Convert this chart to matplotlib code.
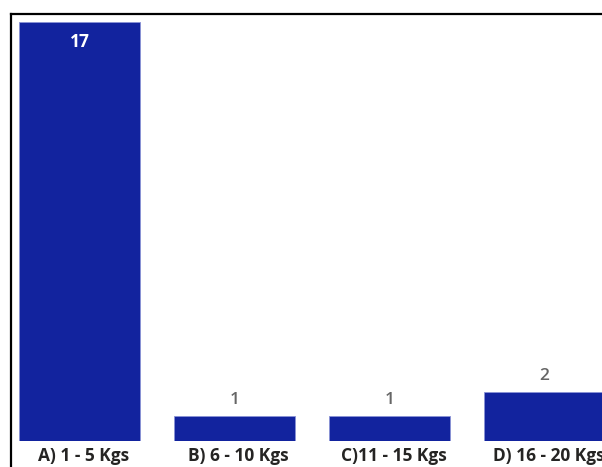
import matplotlib
matplotlib.use("Agg")
import matplotlib.pyplot as plt
from matplotlib.lines import Line2D

categories = ["A) 1 - 5 Kgs", "B) 6 - 10 Kgs", "C)11 - 15 Kgs", "D) 16 - 20 Kgs"]
counts = [17, 1, 1, 2]

W, H = 602, 467
fig = plt.figure(figsize=(W / 100, H / 100), dpi=100)
fig.patch.set_facecolor("white")

# axes spanning the figure; baseline at 26 px from the bottom
ax = fig.add_axes([0, 26 / H, 1, (H - 26) / H])
ax.set_facecolor("none")
xs = list(range(len(categories)))
bars = ax.bar(xs, counts, width=0.775, color="#12239E",
              edgecolor="#8a93d6", linewidth=0.6)
ax.set_xlim(-79.5 / 155, (W - 79.5) / 155)
ax.set_ylim(0, 441 / 419 * 17)
ax.axis("off")

font = "Open Sans"
ymax = ax.get_ylim()[1]
for x, v, lab in zip(xs, counts, categories):
    if v / ymax > 0.5:
        ax.annotate(str(v), (x, v), xytext=(0, -14.5), textcoords="offset points",
                    ha="center", va="center", color="white", fontsize=12.5,
                    fontweight="bold", family=font)
    else:
        ax.annotate(str(v), (x, v), xytext=(0, 11.5), textcoords="offset points",
                    ha="center", va="center", color="#666666", fontsize=12.5,
                    fontweight="semibold", family=font)
    ax.annotate(lab, (x, 0), xytext=(2.8, -10.5), textcoords="offset points",
                ha="center", va="center", color="#252423", fontsize=12.5,
                fontweight="bold", family=font, annotation_clip=False)

# outer frame: left and top edges
fig.add_artist(Line2D([11 / W, 11 / W], [0, 1 - 14 / H], color="black",
                      linewidth=1.6, transform=fig.transFigure))
fig.add_artist(Line2D([11 / W, 1], [1 - 14 / H, 1 - 14 / H], color="black",
                      linewidth=1.6, transform=fig.transFigure))

fig.savefig("out.png", dpi=100, facecolor="white")
